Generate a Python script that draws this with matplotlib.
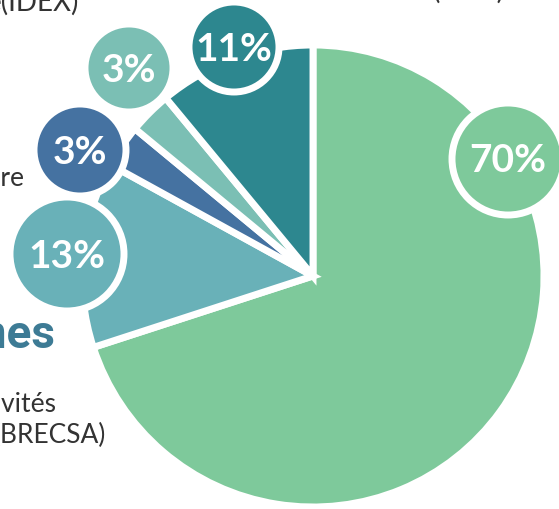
import matplotlib
matplotlib.use("Agg")
import matplotlib.pyplot as plt
from matplotlib.patches import Circle

# shares of the budget, clockwise from 12 o'clock
shares = [70, 13, 3, 3, 11]
colors = ["#7ec99b", "#69b1b8", "#4572a1", "#7bbfb4", "#2d878f"]

# bubble labels (image pixel positions and radius), one per slice
bubble_xy = [(508, 159), (67, 254), (80, 150), (129, 68), (234, 47)]
bubble_r = [56, 57, 46, 44, 45]

W, H = 559, 509
fig = plt.figure(figsize=(W / 100, H / 100), dpi=100)
ax = fig.add_axes([0, 0, 1, 1])

# y axis is flipped below, so counterclock=True draws clockwise on screen
ax.pie(shares, colors=colors, startangle=-90, counterclock=True,
       center=(313, 276), radius=231,
       wedgeprops=dict(edgecolor="white", linewidth=5))

for v, c, (x, y), r in zip(shares, colors, bubble_xy, bubble_r):
    ax.add_patch(Circle((x, y), r, facecolor=c, edgecolor="white",
                        linewidth=5, zorder=5))
    ax.text(x, y + 2, f"{v}%", color="white", fontsize=28, fontweight="bold",
            family="Lato", ha="center", va="center", zorder=6)

# bits of the surrounding legend text, cut by the image border
grey = "#333333"
ax.text(79, 11, "e(IDEX)", color=grey, fontsize=20, family="Lato",
        ha="right", va="baseline")
ax.text(505, -1, "(ANR)", color=grey, fontsize=20, family="Lato",
        ha="right", va="baseline")
ax.text(25, 186, "ire", color=grey, fontsize=19, family="Lato",
        ha="right", va="baseline")
ax.text(57, 412, "Collectivités", color=grey, fontsize=19, family="Lato",
        ha="right", va="baseline")
ax.text(106, 443, "(BRECSA)", color=grey, fontsize=19, family="Lato",
        ha="right", va="baseline")

# headings: the original face is a condensed bold, Roboto bold is the closest
blue = "#3d7b95"
ax.text(56, 348, "humaines", color=blue, fontsize=33, fontweight="bold",
        family="Roboto", ha="right", va="baseline")
ax.text(-4, 90, "Ressources", color=blue, fontsize=33, fontweight="bold",
        family="Roboto", ha="right", va="baseline")

ax.set_xlim(0, W)
ax.set_ylim(H, 0)
ax.set_aspect("equal")
ax.axis("off")

fig.savefig("out.png", dpi=100)
